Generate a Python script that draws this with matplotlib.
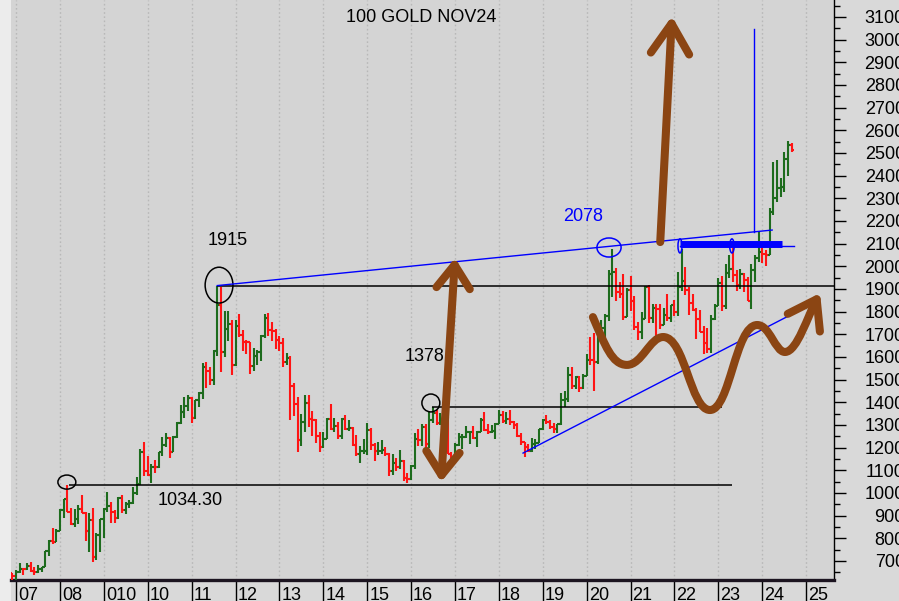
import numpy as np
import matplotlib
matplotlib.use("Agg")
import matplotlib.pyplot as plt
from matplotlib.patches import Ellipse, FancyArrowPatch, ArrowStyle, Rectangle
from matplotlib.path import Path
from matplotlib.transforms import ScaledTranslation

TITLE = "100 GOLD NOV24"

# Monthly OHLC bars, Dec 2006 .. Sep 2024 (month index 0 = Jan 2007)
first_month_index = -1

opens = [
    646,
    632, 650, 665, 663, 679, 657, 650, 665, 673, 743, 789, 783,
    834, 923, 972, 917, 865, 887, 928, 913, 833, 880, 718, 815,
    884, 928, 942, 916, 891, 978, 926, 953, 955, 1000, 1040, 1180,
    1096, 1081, 1116, 1113, 1180, 1212, 1242, 1181, 1247, 1307, 1357, 1385,
    1421, 1332, 1409, 1439, 1556, 1536, 1500, 1628, 1828, 1620, 1722, 1746,
    1566, 1738, 1697, 1668, 1664, 1560, 1604, 1622, 1692, 1772, 1719, 1714,
    1675, 1663, 1579, 1596, 1472, 1393, 1234, 1313, 1396, 1327, 1323, 1250,
    1202, 1240, 1326, 1284, 1296, 1250, 1327, 1282, 1287, 1210, 1172, 1183,
    1184, 1279, 1213, 1183, 1183, 1190, 1172, 1095, 1132, 1115, 1142, 1064,
    1060, 1118, 1238, 1233, 1293, 1215, 1322, 1351, 1309, 1316, 1272, 1173,
    1146, 1211, 1249, 1249, 1268, 1268, 1242, 1269, 1322, 1280, 1271, 1275,
    1303, 1345, 1318, 1325, 1315, 1298, 1253, 1223, 1201, 1187, 1214, 1222,
    1282, 1321, 1313, 1292, 1284, 1305, 1409, 1413, 1520, 1472, 1513, 1464,
    1517, 1587, 1585, 1577, 1686, 1730, 1781, 1965, 1975, 1886, 1879, 1776,
    1895, 1848, 1734, 1708, 1769, 1907, 1771, 1814, 1813, 1743, 1783, 1774,
    1829, 1797, 1909, 1937, 1897, 1837, 1807, 1766, 1711, 1661, 1633, 1768,
    1824, 1928, 1827, 1969, 1990, 1963, 1919, 1965, 1940, 1848, 1983, 2036,
    2063, 2053, 2050, 2238, 2303, 2345, 2350, 2473, 2535,
]

highs = [
    649,
    660, 690, 670, 692, 694, 673, 684, 675, 746, 794, 845, 841,
    928, 975, 1034.3, 933, 930, 947, 989, 917, 911, 935, 825, 885,
    933, 1006, 962, 925, 980, 989, 960, 967, 1025, 1070, 1195, 1227,
    1162, 1128, 1146, 1180, 1249, 1265, 1245, 1250, 1312, 1388, 1424, 1432,
    1424, 1411, 1447, 1575, 1577, 1556, 1632, 1915, 1910, 1804, 1803, 1764,
    1764, 1791, 1720, 1677, 1667, 1641, 1630, 1697, 1790, 1796, 1755, 1723,
    1694, 1683, 1617, 1605, 1487, 1424, 1348, 1434, 1434, 1361, 1325, 1267,
    1270, 1332, 1392, 1331, 1315, 1332, 1345, 1322, 1291, 1255, 1208, 1239,
    1308, 1287, 1220, 1224, 1232, 1205, 1175, 1170, 1156, 1191, 1146, 1088,
    1123, 1263, 1282, 1303, 1304, 1362, 1378, 1367, 1352, 1318, 1337, 1180,
    1219, 1264, 1261, 1295, 1271, 1296, 1272, 1331, 1357, 1306, 1299, 1307,
    1366, 1362, 1356, 1365, 1318, 1309, 1266, 1224, 1214, 1243, 1237, 1284,
    1326, 1346, 1324, 1310, 1306, 1439, 1452, 1555, 1557, 1517, 1516, 1525,
    1611, 1689, 1704, 1748, 1765, 1789, 1984, 2078, 1992, 1933, 1965, 1906,
    1959, 1871, 1755, 1798, 1913, 1916, 1832, 1834, 1834, 1814, 1877, 1831,
    1853, 1974, 2078, 1998, 1910, 1879, 1814, 1808, 1735, 1730, 1786, 1833,
    1949, 1959, 2009, 2048, 2085, 1983, 1987, 1970, 1953, 2009, 2052, 2152,
    2088, 2074, 2256, 2460, 2470, 2390, 2505, 2553, 2545,
]

lows = [
    612,
    608, 645, 636, 660, 650, 640, 648, 650, 672, 723, 776, 782,
    832, 889, 915, 860, 849, 862, 910, 786, 740, 695, 705, 741,
    800, 915, 866, 866, 884, 913, 905, 933, 951, 992, 1035, 1075,
    1075, 1044, 1088, 1112, 1165, 1202, 1155, 1179, 1243, 1305, 1331, 1360,
    1309, 1326, 1381, 1416, 1462, 1478, 1478, 1604, 1534, 1600, 1669, 1522,
    1562, 1690, 1627, 1613, 1527, 1540, 1564, 1582, 1682, 1692, 1672, 1636,
    1626, 1555, 1565, 1321, 1338, 1180, 1207, 1271, 1291, 1251, 1221, 1182,
    1198, 1238, 1277, 1268, 1240, 1240, 1280, 1273, 1206, 1161, 1131, 1170,
    1167, 1191, 1142, 1167, 1170, 1162, 1077, 1080, 1098, 1106, 1052, 1046,
    1058, 1107, 1208, 1207, 1200, 1199, 1310, 1302, 1302, 1241, 1171, 1122,
    1146, 1208, 1195, 1244, 1214, 1236, 1204, 1267, 1275, 1261, 1264, 1236,
    1303, 1307, 1303, 1302, 1282, 1246, 1211, 1160, 1180, 1182, 1196, 1221,
    1276, 1303, 1281, 1266, 1266, 1300, 1381, 1400, 1459, 1459, 1445, 1458,
    1517, 1563, 1451, 1567, 1670, 1671, 1757, 1863, 1848, 1860, 1764, 1775,
    1803, 1717, 1677, 1678, 1766, 1751, 1751, 1688, 1722, 1740, 1758, 1753,
    1780, 1781, 1890, 1872, 1787, 1805, 1681, 1709, 1615, 1618, 1617, 1765,
    1823, 1805, 1810, 1949, 1932, 1893, 1902, 1885, 1846, 1810, 1931, 2017,
    2016, 2003, 2050, 2228, 2283, 2304, 2330, 2400, 2505,
]

closes = [
    632,
    650, 665, 663, 679, 657, 650, 665, 673, 743, 789, 783, 834,
    923, 972, 917, 865, 887, 928, 913, 833, 880, 718, 815, 884,
    928, 942, 916, 891, 978, 926, 953, 955, 1000, 1040, 1180, 1096,
    1081, 1116, 1113, 1180, 1212, 1242, 1181, 1247, 1307, 1357, 1385, 1421,
    1332, 1409, 1439, 1556, 1536, 1500, 1628, 1828, 1620, 1722, 1746, 1566,
    1738, 1697, 1668, 1664, 1560, 1604, 1622, 1692, 1772, 1719, 1714, 1675,
    1663, 1579, 1596, 1472, 1393, 1234, 1313, 1396, 1327, 1323, 1250, 1202,
    1240, 1326, 1284, 1296, 1250, 1327, 1282, 1287, 1210, 1172, 1183, 1184,
    1279, 1213, 1183, 1183, 1190, 1172, 1095, 1132, 1115, 1142, 1064, 1060,
    1118, 1238, 1233, 1293, 1215, 1322, 1351, 1309, 1316, 1272, 1173, 1146,
    1211, 1249, 1249, 1268, 1268, 1242, 1269, 1322, 1280, 1271, 1275, 1303,
    1345, 1318, 1325, 1315, 1298, 1253, 1223, 1201, 1187, 1214, 1222, 1282,
    1321, 1313, 1292, 1284, 1305, 1409, 1413, 1520, 1472, 1513, 1464, 1517,
    1587, 1585, 1577, 1686, 1730, 1781, 1965, 1975, 1886, 1879, 1776, 1895,
    1848, 1734, 1708, 1769, 1907, 1771, 1814, 1813, 1743, 1783, 1774, 1829,
    1797, 1909, 1937, 1897, 1837, 1807, 1766, 1711, 1661, 1633, 1768, 1824,
    1928, 1827, 1969, 1990, 1963, 1919, 1965, 1940, 1848, 1983, 2036, 2063,
    2053, 2050, 2238, 2303, 2345, 2350, 2473, 2535, 2515,
]

year_ticks = list(range(0, 217, 12))
year_labels = ["07", "08", "010", "10", "11", "12", "13", "14", "15", "16",
               "17", "18", "19", "20", "21", "22", "23", "24", "25"]
price_ticks = list(range(700, 3101, 100))
price_minor = list(range(650, 3151, 100))

# Marked levels
level_2008 = 1034.30
level_2011 = 1915
level_2016 = 1378
level_2020 = 2078

UP = "#1d6b1d"
DOWN = "#ff1414"
BROWN = "#8b4513"
BLUE = "#0000ff"
FONT = "Liberation Sans"

plt.rcParams["font.family"] = [FONT, "DejaVu Sans"]

fig = plt.figure(figsize=(8.99, 6.01), dpi=100)
fig.patch.set_facecolor("#d9d9d9")
fig.patches.append(Rectangle((0, 0), 11 / 899, 1, transform=fig.transFigure,
                             facecolor="#ececec", edgecolor="none", zorder=-1))
ax = fig.add_axes([11 / 899, 21 / 601, 823 / 899, 580 / 601])
ax.set_facecolor("#d4d4d4")
ax.set_xlim(-1.37, 223.6)
ax.set_ylim(616, 3175)

# OHLC bars
o = np.array(opens, float)
h = np.array(highs, float)
lo = np.array(lows, float)
c = np.array(closes, float)
x = np.arange(len(c)) + first_month_index
cols = np.where(c >= o, UP, DOWN)
ax.vlines(x, lo, h, colors=cols, lw=1.5, zorder=3)
ax.hlines(o, x - 0.6, x, colors=cols, lw=1.5, zorder=3)
ax.hlines(c, x, x + 0.6, colors=cols, lw=1.5, zorder=3)

# Grid and axes
ax.set_xticks(year_ticks)
ax.set_xticklabels(year_labels, fontsize=13, ha="left")
ax.grid(axis="x", color="#b8b8b8", linestyle=(0, (1.2, 1.8)), lw=1.0, zorder=0)
ax.tick_params(axis="x", length=18, width=1, color="black", pad=-13,
               direction="out")
for lab in ax.get_xticklabels():
    lab.set_transform(lab.get_transform() + ScaledTranslation(2 / 100, 0, fig.dpi_scale_trans))

ax.yaxis.tick_right()
ax.set_yticks(price_ticks)
ax.set_yticklabels([str(v) for v in price_ticks], fontsize=13)
ax.set_yticks(price_minor, minor=True)
ax.tick_params(axis="y", which="major", length=8.6, width=1, pad=42.5)
ax.tick_params(axis="y", which="minor", length=4.3, width=1)
for lab in ax.get_yticklabels():
    lab.set_horizontalalignment("right")

for side in ("top", "left"):
    ax.spines[side].set_visible(False)
ax.spines["bottom"].set_linewidth(2.4)
ax.spines["bottom"].set_color("#1c1420")
ax.spines["right"].set_linewidth(1.0)

# Horizontal levels
ax.hlines(level_2008, 14.5, 195.7, color="black", lw=1.1, zorder=4)
ax.hlines(level_2011, 55, 223.6, color="black", lw=1.1, zorder=4)
ax.hlines(level_2016, 113.7, 193.0, color="black", lw=1.1, zorder=4)

ax.add_patch(Ellipse((13.9, 1048), 4.9, 62, fill=False, ec="black", lw=1.1, zorder=5))
ax.add_patch(Ellipse((55.5, 1917), 7.6, 158, fill=False, ec="black", lw=1.1, zorder=5))
ax.add_patch(Ellipse((113.4, 1397), 4.9, 79, fill=False, ec="black", lw=1.1, zorder=5))

# Blue trend lines
ax.plot([55, 206.7], [level_2011, 2160], color=BLUE, lw=1.0, zorder=5)
ax.plot([138.6, 214.3], [1176, 1807], color=BLUE, lw=1.0, zorder=5)
ax.plot([201.7, 201.7], [2151, 3047], color=BLUE, lw=1.0, zorder=5)
ax.plot([181.5, 209.4], [2098, 2098], color=BLUE, lw=5.0, solid_capstyle="butt", zorder=5)
ax.plot([181.5, 212.7], [2090, 2090], color=BLUE, lw=1.0, zorder=5)
ax.add_patch(Ellipse((162.1, 2083), 6.6, 84, fill=False, ec=BLUE, lw=1.1, zorder=5))
ax.add_patch(Ellipse((181.5, 2090), 1.1, 62, fill=False, ec=BLUE, lw=1.1, zorder=5))
ax.add_patch(Ellipse((195.7, 2090), 1.2, 62, fill=False, ec=BLUE, lw=1.1, zorder=5))

# Labels
txt = dict(fontsize=13, va="center", ha="left", zorder=6)
ax.text(52.5, 2116, f"{level_2011}", color="black", **txt)
ax.text(106.1, 1600, f"{level_2016}", color="black", **txt)
ax.text(38.8, 965, f"{level_2008:.2f}", color="black", **txt)
ax.text(149.5, 2218, f"{level_2020}", color=BLUE, **txt)
ax.text(0.498, 1 - 17 / 580, TITLE, transform=ax.transAxes, fontsize=13,
        ha="center", va="center", color="black")

# Brown projection arrows
def brown_arrow(**kw):
    p = FancyArrowPatch(color=BROWN, lw=5.8, capstyle="round", joinstyle="round",
                        shrinkA=0, shrinkB=0, zorder=7, **kw)
    ax.add_patch(p)

brown_arrow(posA=(116.2, 1048), posB=(120.0, 2037),
            arrowstyle=ArrowStyle("<->", head_length=1.4, head_width=1.0),
            mutation_scale=12)
brown_arrow(posA=(176.1, 2107), posB=(179.3, 3104),
            arrowstyle=ArrowStyle("->", head_length=1.8, head_width=1.15),
            mutation_scale=12)

wave_pts = [
    (157.7, 1776),
    (161.0, 1653), (162.9, 1565), (167.0, 1565),
    (171.1, 1565), (173.3, 1688), (176.9, 1688),
    (182.9, 1688), (184.3, 1366), (189.7, 1366),
    (195.2, 1366), (196.6, 1741), (202.6, 1741),
    (206.1, 1741), (207.5, 1622), (210.2, 1622),
    (213.5, 1622), (216.5, 1785), (219.8, 1882),
]
wave_codes = [Path.MOVETO] + [Path.CURVE4] * (len(wave_pts) - 1)
brown_arrow(path=Path(wave_pts, wave_codes),
            arrowstyle=ArrowStyle("->", head_length=1.6, head_width=1.1),
            mutation_scale=12)

fig.savefig("out.png", dpi=100, facecolor=fig.get_facecolor())
